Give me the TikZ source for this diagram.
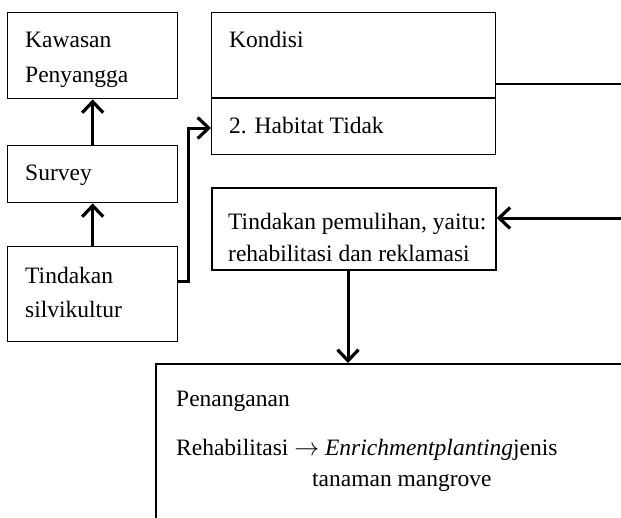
\documentclass[tikz,border=0pt]{standalone}
\usepackage{fontspec}
\setmainfont{Liberation Serif}
\usepackage{tikz}
\usetikzlibrary{arrows.meta}
\usetikzlibrary{calc}

\begin{document}
\begin{tikzpicture}[x=1pt, y=-1pt, box/.style={draw, line width=1.4pt, anchor=north west, inner sep=0pt}, txt/.style={anchor=base west, inner sep=0pt, font=\fontsize{23.5}{33}\selectfont}, conn/.style={line width=3pt, -{Straight Barb[length=11pt, width=21pt, line width=3.2pt]}}]
		\useasboundingbox (0,0) rectangle (621,517);
		% boxes
		\node[box, minimum width=170pt, minimum height=86pt](kawasan) at (7,12){};
		\node[box, minimum width=284pt, minimum height=142pt](kondisi) at (211,12){};
		\node[box, minimum width=170pt, minimum height=57pt](survey) at (7,145){};
		\node[box, minimum width=170pt, minimum height=95pt](silvikultur) at (7,246){};
		\node[box, line width=1.8pt, minimum width=284pt, minimum height=82pt](pemulihan) at (211,187){};
		\node[box, line width=2.2pt, minimum width=500pt, minimum height=200pt](penanganan) at (155,363){};
		\draw[line width=1.4pt] (kondisi.west |- 0,98) -- (kondisi.east |- 0,98);
		% texts
		\node[txt](tkawasan) at (25,47){Kawasan};
		\node[txt](tpenyangga) at (25,82){Penyangga};
		\node[txt](tkondisi) at (229,47){Kondisi};
		\node[txt](thabitat) at (229,133){2. Habitat Tidak};
		\node[txt](tsurvey) at (25,180){Survey};
		\node[txt](ttindakan) at (25,283){Tindakan};
		\node[txt](tsilvi) at (25,317){silvikultur};
		\node[txt](tpemulihan) at (228,229){Tindakan pemulihan, yaitu:};
		\node[txt](treha) at (228,261){rehabilitasi dan reklamasi};
		\node[txt](tpenanganan) at (176,406){Penanganan};
		\node[txt](trehab) at (176,455){Rehabilitasi $\rightarrow$ \textit{Enrichmentplanting}jenis};
		\node[txt](ttanaman) at (312,486){tanaman mangrove};
		% connectors
		\coordinate(elbow) at (188,128);
		\coordinate(outa) at (621,84);
		\coordinate(outb) at (621,218);
		\draw[conn] (survey.north) -- (kawasan.south);
		\draw[conn] (silvikultur.north) -- (survey.south);
		\draw[conn] (silvikultur.east |- 0,281) -- (elbow |- 0,281) -- (elbow) -- (kondisi.west |- elbow);
		\draw[line width=2pt] (kondisi.east |- outa) -- (outa);
		\draw[conn] (outb) -- (pemulihan.east |- outb);
		\draw[conn] (pemulihan.south -| 348,0) -- (penanganan.north -| 348,0);
	\end{tikzpicture}
\end{document}
